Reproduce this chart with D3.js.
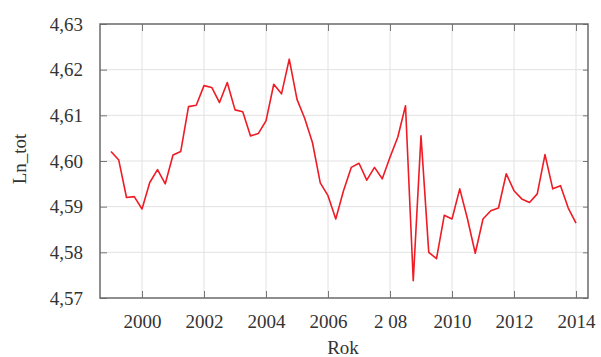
<!DOCTYPE html>
<html>
<head>
<meta charset="utf-8">
<script src="https://cdn.jsdelivr.net/npm/d3@7/dist/d3.min.js"></script>
<style>
  html, body { margin: 0; padding: 0; background: #fff; }
</style>
</head>
<body>
<svg id="chart" width="601" height="357"></svg>
<script>
// Quarterly observations, 1999 Q1 – 2014 Q1
const years = [
  1999.00, 1999.25, 1999.50, 1999.75,
  2000.00, 2000.25, 2000.50, 2000.75,
  2001.00, 2001.25, 2001.50, 2001.75,
  2002.00, 2002.25, 2002.50, 2002.75,
  2003.00, 2003.25, 2003.50, 2003.75,
  2004.00, 2004.25, 2004.50, 2004.75,
  2005.00, 2005.25, 2005.50, 2005.75,
  2006.00, 2006.25, 2006.50, 2006.75,
  2007.00, 2007.25, 2007.50, 2007.75,
  2008.00, 2008.25, 2008.50, 2008.75,
  2009.00, 2009.25, 2009.50, 2009.75,
  2010.00, 2010.25, 2010.50, 2010.75,
  2011.00, 2011.25, 2011.50, 2011.75,
  2012.00, 2012.25, 2012.50, 2012.75,
  2013.00, 2013.25, 2013.50, 2013.75,
  2014.00
];
const lnTot = [
  4.6021, 4.6002, 4.5920, 4.5922,
  4.5895, 4.5953, 4.5981, 4.5950,
  4.6013, 4.6021, 4.6119, 4.6122,
  4.6165, 4.6161, 4.6128, 4.6172,
  4.6112, 4.6108, 4.6055, 4.6060,
  4.6088, 4.6168, 4.6147, 4.6223,
  4.6135, 4.6093, 4.6040, 4.5952,
  4.5924, 4.5873, 4.5935, 4.5986,
  4.5995, 4.5958, 4.5986, 4.5961,
  4.6008, 4.6052, 4.6121, 4.5738,
  4.6055, 4.5800, 4.5786, 4.5881,
  4.5873, 4.5939, 4.5873, 4.5798,
  4.5873, 4.5891, 4.5897, 4.5972,
  4.5935, 4.5917, 4.5909, 4.5928,
  4.6014, 4.5939, 4.5946, 4.5897,
  4.5864
];
const xTickValues = [2000, 2002, 2004, 2006, 2008, 2010, 2012, 2014];
const xTickLabels = ["2000", "2002", "2004", "2006", "2 08", "2010", "2012", "2014"];
const yTickValues = [4.57, 4.58, 4.59, 4.60, 4.61, 4.62, 4.63];
const yTickLabels = ["4,57", "4,58", "4,59", "4,60", "4,61", "4,62", "4,63"];

const plot = { left: 100, right: 588, top: 24, bottom: 298 };
const serif = "'Liberation Serif'";
const svg = d3.select("#chart");

const x = d3.scaleLinear().domain([1998.645, 2014.387]).range([plot.left, plot.right]);
const y = d3.scaleLinear().domain([4.57, 4.63]).range([plot.bottom, plot.top]);

// grid
const grid = svg.append("g");
grid.selectAll("line.vg").data(xTickValues).join("line")
  .attr("x1", d => x(d)).attr("x2", d => x(d))
  .attr("y1", plot.top).attr("y2", plot.bottom)
  .attr("stroke", "#e2e2e2").attr("stroke-width", 1);
grid.selectAll("line.hg").data(yTickValues.slice(1, -1)).join("line")
  .attr("x1", plot.left).attr("x2", plot.right)
  .attr("y1", d => y(d)).attr("y2", d => y(d))
  .attr("stroke", "#e2e2e2").attr("stroke-width", 1);

// axes with inward ticks
const xFmt = (d, i) => xTickLabels[i];
const yFmt = (d, i) => yTickLabels[i];

const xAxis = svg.append("g").attr("transform", `translate(0,${plot.bottom})`)
  .call(d3.axisBottom(x).tickValues(xTickValues).tickFormat(xFmt).tickSizeInner(-7).tickSizeOuter(0).tickPadding(17));
const xTop = svg.append("g").attr("transform", `translate(0,${plot.top})`)
  .call(d3.axisTop(x).tickValues(xTickValues).tickFormat("").tickSizeInner(-7).tickSizeOuter(0));
const yAxis = svg.append("g").attr("transform", `translate(${plot.left},0)`)
  .call(d3.axisLeft(y).tickValues(yTickValues).tickFormat(yFmt).tickSizeInner(-7).tickSizeOuter(0).tickPadding(17));
const yRight = svg.append("g").attr("transform", `translate(${plot.right},0)`)
  .call(d3.axisRight(y).tickValues(yTickValues).tickFormat("").tickSizeInner(-5).tickSizeOuter(0));

[xAxis, xTop, yAxis, yRight].forEach(g => {
  g.select(".domain").remove();
  g.selectAll(".tick line").attr("stroke", "#777").attr("stroke-width", 1);
  g.selectAll(".tick text").attr("font-size", 19).attr("fill", "#333")
    .style("font-family", serif);
});

// frame
svg.append("rect")
  .attr("x", plot.left).attr("y", plot.top)
  .attr("width", plot.right - plot.left).attr("height", plot.bottom - plot.top)
  .attr("fill", "none").attr("stroke", "#6a6a6a").attr("stroke-width", 1.5);

// series line
const pts = years.map((t, i) => [t, lnTot[i]]);
svg.append("path")
  .datum(pts)
  .attr("fill", "none")
  .attr("stroke", "#ee1c25")
  .attr("stroke-width", 1.6)
  .attr("stroke-linejoin", "round")
  .attr("d", d3.line().x(d => x(d[0])).y(d => y(d[1])));

// axis titles
svg.append("text")
  .attr("x", 343).attr("y", 354)
  .attr("text-anchor", "middle").attr("font-size", 19).attr("fill", "#333")
  .style("font-family", serif)
  .text("Rok");
svg.append("text")
  .attr("transform", "translate(26,159) rotate(-90)")
  .attr("text-anchor", "middle").attr("font-size", 19).attr("fill", "#333")
  .style("font-family", serif)
  .text("Ln_tot");
</script>
</body>
</html>
